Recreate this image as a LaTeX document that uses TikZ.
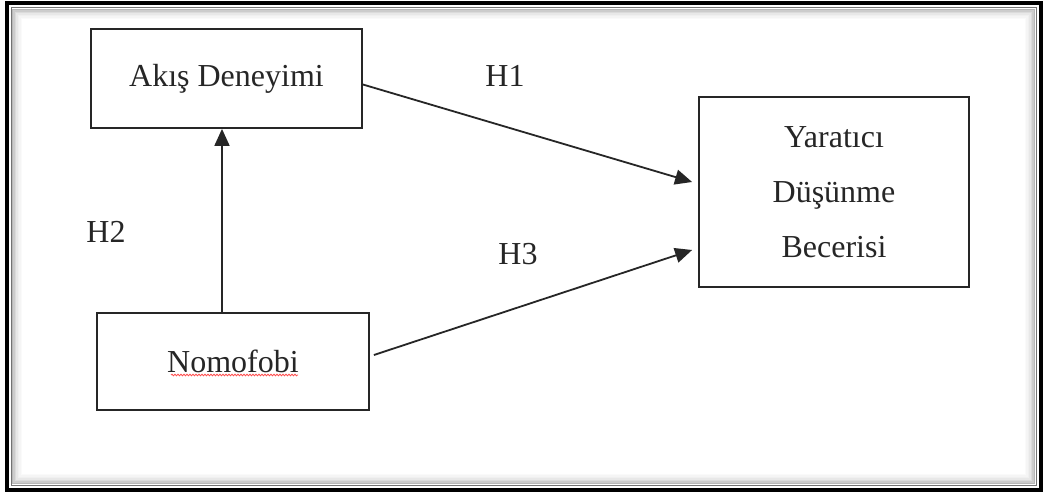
\documentclass[tikz,border=0pt]{standalone}
\usepackage{fontspec}
\setmainfont{Liberation Serif}
\usetikzlibrary{arrows.meta,decorations.pathmorphing}
\begin{document}
\begin{tikzpicture}[x=1pt,y=1pt,
  box/.style={draw=black!85,line width=1.8pt,inner sep=0pt,font=\fontsize{32}{55}\selectfont,text=black!85,align=center},
  arr/.style={draw=black!85,line width=1.8pt,-{Triangle[length=17pt,width=15pt]}},
  lab/.style={font=\fontsize{32}{38}\selectfont,text=black!85,inner sep=0pt}]
\useasboundingbox (0,0) rectangle (1044,493);
\fill[white] (0,0) rectangle (1044,493);
% frame with inner shadow
\foreach \i/\g in {1/28,2/20,3/14,4/9,5/6,6/4,7/2}{
  \draw[black!\g!white, line width=1.6pt] (11+\i*1.5,8+\i*1.5) rectangle (1036-\i*1.5,485-\i*1.5);
}
\draw[black!55,line width=1pt] (11.5,8) rectangle (1036.5,485);
\draw[white,line width=2pt] (10,6) rectangle (1038,487);
\draw[black,line width=4pt] (7,3.5) rectangle (1041,489.5);
% nodes
\node[box,minimum width=271pt,minimum height=99pt] (akis) at (226.5,414.5) {Akış Deneyimi};
\node[box,minimum width=272pt,minimum height=97pt] (nomo) at (233,131.5) {Nomofobi};
\node[box,minimum width=270pt,minimum height=190pt] (yar) at (834,301) {Yaratıcı\\Düşünme\\Becerisi};
% spell-check underline
\coordinate (ul1) at (171,118);
\coordinate (ul2) at (298,118);
\draw[red!70,line width=0.8pt,decorate,decoration={snake,amplitude=0.8pt,segment length=3pt}] (ul1) -- (ul2);
% connectors
\coordinate (vx) at (222,0);
\draw[arr] (nomo.north -| vx) -- (akis.south -| vx);
\draw[arr] ([yshift=-6pt]akis.east) -- ([xshift=-6pt,yshift=10pt]yar.west);
\draw[arr] ([xshift=4pt,yshift=6.5pt]nomo.east) -- ([xshift=-6pt,yshift=-58pt]yar.west);
% labels
\node[lab] (h1) at (505,417) {H1};
\node[lab] (h2) at (106,261) {H2};
\node[lab] (h3) at (518,239) {H3};
\end{tikzpicture}
\end{document}
